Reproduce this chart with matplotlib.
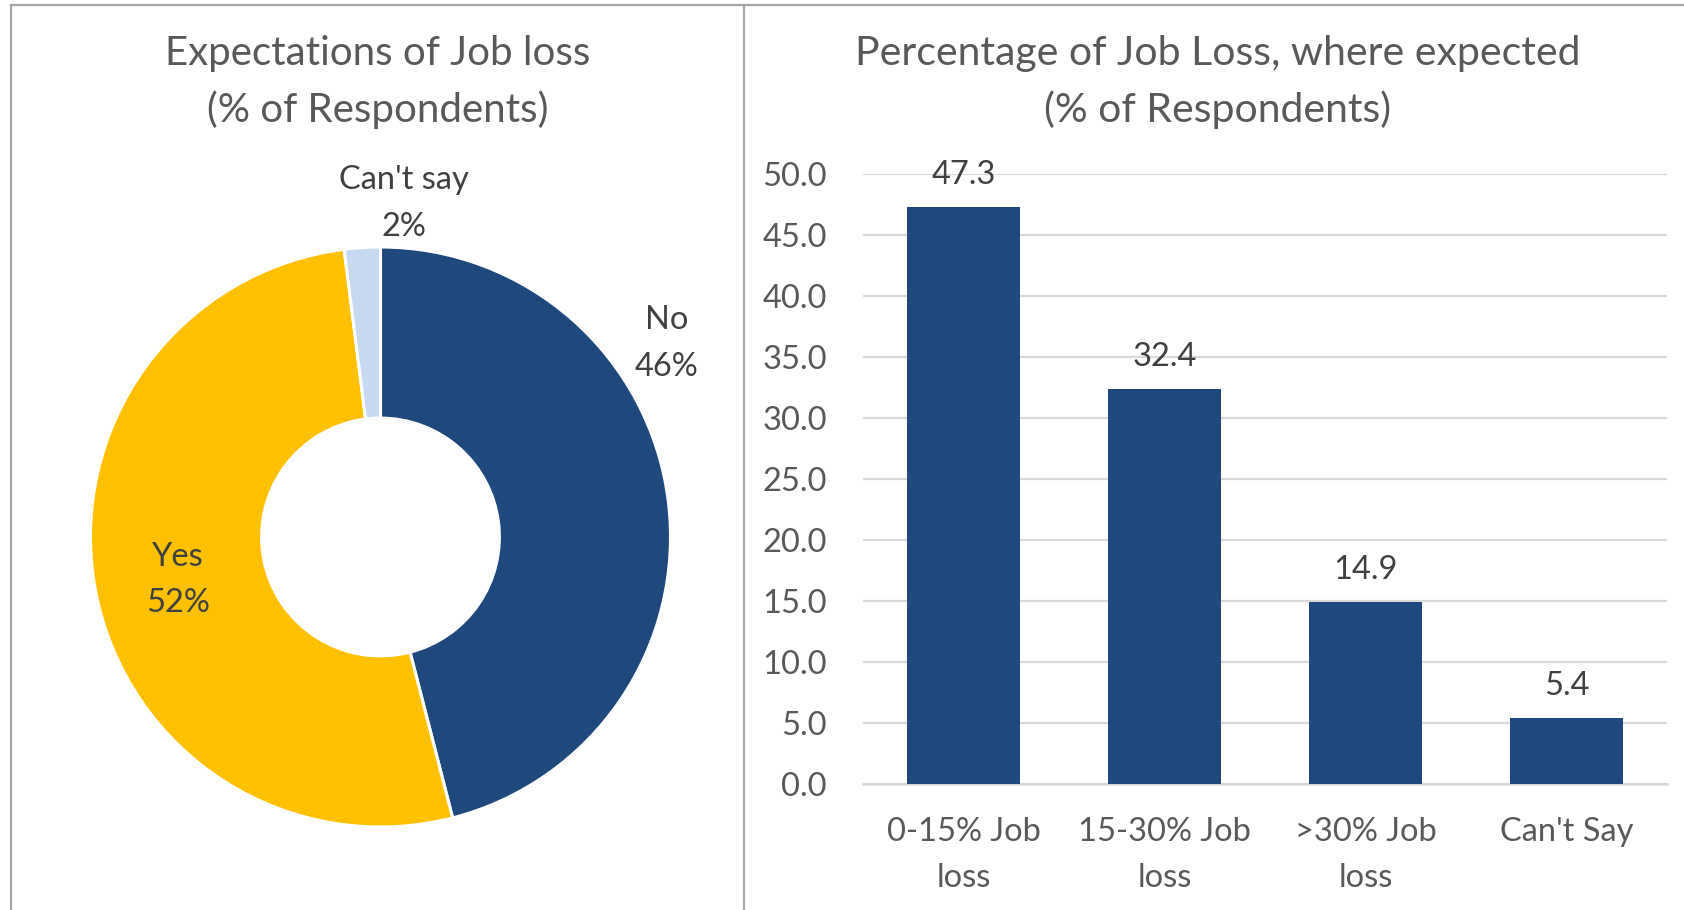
import matplotlib
matplotlib.use('Agg')
import matplotlib.pyplot as plt
from matplotlib.lines import Line2D

plt.rcParams['font.family'] = ['Lato', 'DejaVu Sans']

# Datos: expectativas de pérdida de empleo
pie_labels = ["No", "Yes", "Can't say"]
pie_values = [46, 52, 2]
pie_colors = ["#1F497D", "#FFC000", "#C6D9F1"]

# Datos: porcentaje de pérdida de empleo
bar_labels = ["0-15% Job\nloss", "15-30% Job\nloss", ">30% Job\nloss", "Can't Say"]
bar_values = [47.3, 32.4, 14.9, 5.4]
yticks = [0, 5, 10, 15, 20, 25, 30, 35, 40, 45, 50]

W, H = 1684, 910
fig = plt.figure(figsize=(W / 100, H / 100), dpi=100)

# marco gris
frame = "#A6A6A6"
fig.add_artist(Line2D([10.5 / W, 10.5 / W], [0, 1 - 5 / H], color=frame, lw=1.6, transform=fig.transFigure))
fig.add_artist(Line2D([744 / W, 744 / W], [0, 1 - 5 / H], color=frame, lw=1.6, transform=fig.transFigure))
fig.add_artist(Line2D([10.5 / W, 1], [1 - 5 / H, 1 - 5 / H], color=frame, lw=1.6, transform=fig.transFigure))

title_color = "#595959"
fig.text(378 / W, 1 - 82 / H, "Expectations of Job loss\n(% of Respondents)", ha="center", va="center",
         fontsize=29, color=title_color, linespacing=1.55)
fig.text(1218 / W, 1 - 82 / H, "Percentage of Job Loss, where expected\n(% of Respondents)", ha="center",
         va="center", fontsize=29.5, color=title_color, linespacing=1.55)

# Gráfico 1: dona
cx, cy, r = 380.5, 537, 290
ax1 = fig.add_axes([(cx - r) / W, (H - cy - r) / H, 2 * r / W, 2 * r / H])
ax1.pie(pie_values, colors=pie_colors, startangle=90, counterclock=False,
        wedgeprops=dict(width=0.59, edgecolor="white", linewidth=2.2))
ax1.set_xlim(-1, 1)
ax1.set_ylim(-1, 1)
ax1.set_aspect("equal")
ax1.axis("off")

label_pos = [(0.988, 0.668), (-0.698, -0.148), (0.081, 1.15)]
for (lx, ly), lab, val in zip(label_pos, pie_labels, pie_values):
    ax1.text(lx, ly, f"{lab}\n{val}%", ha="center", va="center", fontsize=23.5,
             color="#404040", linespacing=1.7)

# Gráfico 2: barras
ax2 = fig.add_axes([863 / W, (H - 784) / H, 804 / W, 610 / H])
x = range(len(bar_values))
bars = ax2.bar(x, bar_values, width=0.567, color="#1F497D", zorder=3)
for b, v in zip(bars, bar_values):
    ax2.annotate(f"{v:.1f}", (b.get_x() + b.get_width() / 2, v), xytext=(0, 23),
                 textcoords="offset points", ha="center", va="center", fontsize=23.5, color="#404040")

ax2.set_xlim(-0.5, 3.5)
ax2.set_ylim(0, 50)
ax2.set_yticks(yticks)
ax2.set_yticklabels([f"{t:.1f}" for t in yticks])
ax2.set_xticks(list(x))
ax2.set_xticklabels(bar_labels, linespacing=1.65)
ax2.tick_params(axis="y", length=0, pad=26, labelsize=23.5, labelcolor="#595959")
ax2.tick_params(axis="x", length=0, pad=24, labelsize=23.5, labelcolor="#595959")
ax2.grid(axis="y", color="#D9D9D9", lw=1.6, zorder=0)
for s in ["top", "right", "left"]:
    ax2.spines[s].set_visible(False)
ax2.spines["bottom"].set_color("#D9D9D9")
ax2.spines["bottom"].set_linewidth(1.8)

fig.savefig("out.png", dpi=100)
